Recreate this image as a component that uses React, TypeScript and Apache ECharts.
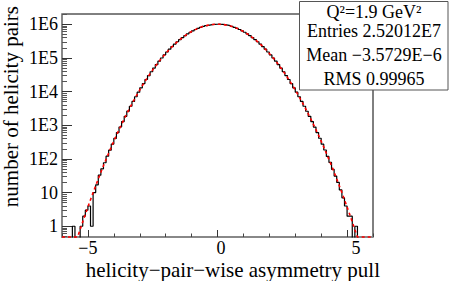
import React, { useEffect, useRef } from "react";
import * as echarts from "echarts";

// ---- data ----
const X_MIN = -6;
const X_MAX = 6;
const BIN_WIDTH = 0.1;
const Y_MIN = 0.48;
const Y_MAX = 2.02e6;

// counts per bin, bins of 0.1 from -6.0 to 6.0
const histCounts = [
  0, 0, 0, 0, 1, 0, 0, 1, 2, 3,
  4, 1, 10, 17, 33, 51, 77, 121, 182, 276,
  410, 606, 889, 1285, 1842, 2616, 3672, 5112, 7038, 9601,
  12957, 17322, 22898, 30012, 38917, 49983, 63538, 79962, 99637, 122908,
  150138, 181562, 217348, 257623, 302318, 351252, 404027, 460118, 518783, 579106,
  640013, 700297, 758612, 813618, 863927, 908224, 945287, 974083, 993747, 1003741,
  1003748, 993752, 974077, 945295, 908216, 863933, 813624, 758606, 700304, 640008,
  579113, 518777, 460124, 404033, 351247, 302322, 257618, 217353, 181557, 150143,
  122912, 99643, 79957, 63542, 49977, 38923, 30008, 22903, 17318, 12962,
  9597, 7041, 5108, 3676, 2613, 1845, 1288, 886, 609, 412,
  274, 184, 119, 79, 49, 31, 20, 12, 7, 4,
  2, 2, 0, 1, 0, 0, 0, 0, 0, 0,
];

// gaussian fit curve read at the bin edges -6.0 ... 6.0
const fitValues = [
  0.015, 0.028, 0.05, 0.089, 0.16, 0.27, 0.47, 0.8, 1.35, 2.26,
  3.75, 6.14, 9.98, 16.0, 25.5, 40.3, 63, 97, 148, 225,
  337, 500, 735, 1070, 1541, 2198, 3104, 4340, 6006, 8230,
  11160, 15000, 19940, 26250, 34220, 44160, 56420, 71360, 89370, 110800,
  136010, 165300, 198890, 236920, 279430, 326270, 377190, 431700, 489190, 548800,
  609560, 670310, 729780, 786620, 839450, 886910, 927730, 960780, 985100, 1000000,
  1005000,
  1000000, 985100, 960780, 927730, 886910, 839450, 786620, 729780, 670310, 609560,
  548800, 489190, 431700, 377190, 326270, 279430, 236920, 198890, 165300, 136010,
  110800, 89370, 71360, 56420, 44160, 34220, 26250, 19940, 15000, 11160,
  8230, 6006, 4340, 3104, 2198, 1541, 1070, 735, 500, 337,
  225, 148, 97, 63, 40.3, 25.5, 16.0, 9.98, 6.14, 3.75,
  2.26, 1.35, 0.8, 0.47, 0.27, 0.16, 0.089, 0.05, 0.028, 0.015,
];

const xMajorTicks = [-5, 0, 5];
const xMinorTicks = [-6, -4, -3, -2, -1, 1, 2, 3, 4, 6];
const yMajorTicks = [1, 10, 100, 1e3, 1e4, 1e5, 1e6];
const yMinorTicks = [
  0.5, 0.6, 0.7, 0.8, 0.9,
  2, 3, 4, 5, 6, 7, 8, 9,
  20, 30, 40, 50, 60, 70, 80, 90,
  200, 300, 400, 500, 600, 700, 800, 900,
  2e3, 3e3, 4e3, 5e3, 6e3, 7e3, 8e3, 9e3,
  2e4, 3e4, 4e4, 5e4, 6e4, 7e4, 8e4, 9e4,
  2e5, 3e5, 4e5, 5e5, 6e5, 7e5, 8e5, 9e5,
  2e6,
];

const statsLines = ["Q²=1.9 GeV²", "Entries 2.52012E7", "Mean −3.5729E−6", "RMS 0.99965"];
const xTitle = "helicity−pair−wise asymmetry pull";
const yTitle = "number of helicity pairs";

const FONT = '"Liberation Serif", "Times New Roman", serif';

export default function App() {
  const ref = useRef<HTMLDivElement>(null);
  useEffect(() => {
    if (!ref.current) return;
    const chart = echarts.init(ref.current, undefined, { renderer: "svg" });
    const lg = (v: number) => Math.log10(v);
    const yLo = lg(Y_MIN);
    const yHi = lg(Y_MAX);

    const histPts: number[][] = [];
    histCounts.forEach((c, i) => {
      histPts.push([X_MIN + i * BIN_WIDTH, c > 0 ? lg(c) : -1]);
    });
    const lastC = histCounts[histCounts.length - 1];
    histPts.push([X_MAX, lastC > 0 ? lg(lastC) : -1]);

    const fitPts = fitValues.map((v, i) => [X_MIN + i * BIN_WIDTH, Math.max(lg(v), yLo)]);

    const yLabelFmt = (v: number) => {
      const n = Math.round(v);
      if (n === 0) return "1";
      if (n === 1) return "10";
      return "1E" + n;
    };
    const xLabelFmt = (v: number) => {
      if (v < 0) return "{n|−" + Math.abs(v) + "}";
      if (v === 0) return "{z|0}";
      return "{p|" + v + "}";
    };
    const labRich = {
      n: { fontSize: 18, lineHeight: 16, fontFamily: FONT, color: "#000" },
      z: { fontSize: 18, lineHeight: 16, fontFamily: FONT, color: "#000", padding: [0, 0, 0, 7] },
      p: { fontSize: 18, lineHeight: 16, fontFamily: FONT, color: "#000", padding: [0, 0, 0, 18] },
    };

    const statsY = [12, 31, 55, 79];

    chart.setOption({
      animation: false,
      grid: {
        left: 62,
        top: 14,
        width: 311,
        height: 223,
        show: true,
        borderColor: "#000",
        borderWidth: 1,
        backgroundColor: "transparent",
      },
      xAxis: [
        {
          type: "value",
          min: X_MIN,
          max: X_MAX,
          position: "bottom",
          axisLine: { show: true, onZero: false, lineStyle: { color: "#888", width: 2 } },
          axisTick: { show: true, inside: true, length: 7, customValues: xMajorTicks, lineStyle: { color: "#333" } },
          axisLabel: {
            show: true,
            customValues: xMajorTicks,
            formatter: xLabelFmt,
            rich: labRich,
            fontSize: 18,
            lineHeight: 16,
            fontFamily: FONT,
            color: "#000",
            margin: 2.5,
          },
          splitLine: { show: false },
        },
        {
          type: "value",
          min: X_MIN,
          max: X_MAX,
          position: "bottom",
          axisLine: { show: false, onZero: false },
          axisTick: { show: true, inside: true, length: 3.5, customValues: xMinorTicks, lineStyle: { color: "#444" } },
          axisLabel: { show: false },
          splitLine: { show: false },
        },
      ],
      yAxis: [
        {
          type: "value",
          min: yLo,
          max: yHi,
          position: "left",
          axisLine: { show: true, onZero: false, lineStyle: { color: "#888", width: 2 } },
          axisTick: {
            show: true,
            inside: true,
            length: 10,
            customValues: yMajorTicks.map(lg),
            lineStyle: { color: "#333" },
          },
          axisLabel: {
            show: true,
            customValues: yMajorTicks.map(lg),
            formatter: yLabelFmt,
            fontSize: 18,
            fontFamily: FONT,
            color: "#000",
            margin: 4,
          },
          splitLine: { show: false },
        },
        {
          type: "value",
          min: yLo,
          max: yHi,
          position: "left",
          axisLine: { show: false, onZero: false },
          axisTick: {
            show: true,
            inside: true,
            length: 5,
            customValues: yMinorTicks.filter((v) => v >= Y_MIN && v <= Y_MAX).map(lg),
            lineStyle: { color: "#555" },
          },
          axisLabel: { show: false },
          splitLine: { show: false },
        },
      ],
      series: [
        {
          type: "line",
          xAxisIndex: 0,
          yAxisIndex: 0,
          data: histPts,
          step: "end",
          symbol: "none",
          clip: true,
          lineStyle: { color: "#000", width: 1.2 },
          z: 2,
        },
        {
          type: "line",
          xAxisIndex: 0,
          yAxisIndex: 0,
          data: fitPts,
          symbol: "none",
          clip: false,
          lineStyle: { color: "#ff0000", width: 1.6, type: [3, 3] },
          z: 3,
        },
      ],
      graphic: [
        {
          type: "rect",
          z: 100,
          shape: { x: 299.5, y: 1.5, width: 148.5, height: 88.5 },
          style: { fill: "#fff", stroke: "#555", lineWidth: 1 },
        },
        ...statsLines.map((t, i) => ({
          type: "text",
          z: 101,
          x: 374,
          y: statsY[i],
          style: {
            text: t,
            fontSize: 18,
            lineHeight: 18,
            fontFamily: FONT,
            fill: "#000",
            align: "center",
            textAlign: "center",
            verticalAlign: "middle",
            textVerticalAlign: "middle",
          },
        })),
        {
          type: "text",
          z: 101,
          x: 380,
          y: 270,
          style: {
            text: xTitle,
            fontSize: 21,
            lineHeight: 19,
            fontFamily: FONT,
            fill: "#000",
            align: "right",
            textAlign: "right",
            verticalAlign: "middle",
            textVerticalAlign: "middle",
          },
        },
        {
          type: "text",
          z: 101,
          x: 11,
          y: 6,
          rotation: Math.PI / 2,
          style: {
            text: yTitle,
            fontSize: 21,
            fontFamily: FONT,
            fill: "#000",
            align: "right",
            textAlign: "right",
            verticalAlign: "middle",
            textVerticalAlign: "middle",
          },
        },
      ],
    });
    return () => chart.dispose();
  }, []);
  return (
    <div
      ref={ref}
      style={{ position: "fixed", left: 0, top: 0, width: 450, height: 281, background: "#fff" }}
    />
  );
}
